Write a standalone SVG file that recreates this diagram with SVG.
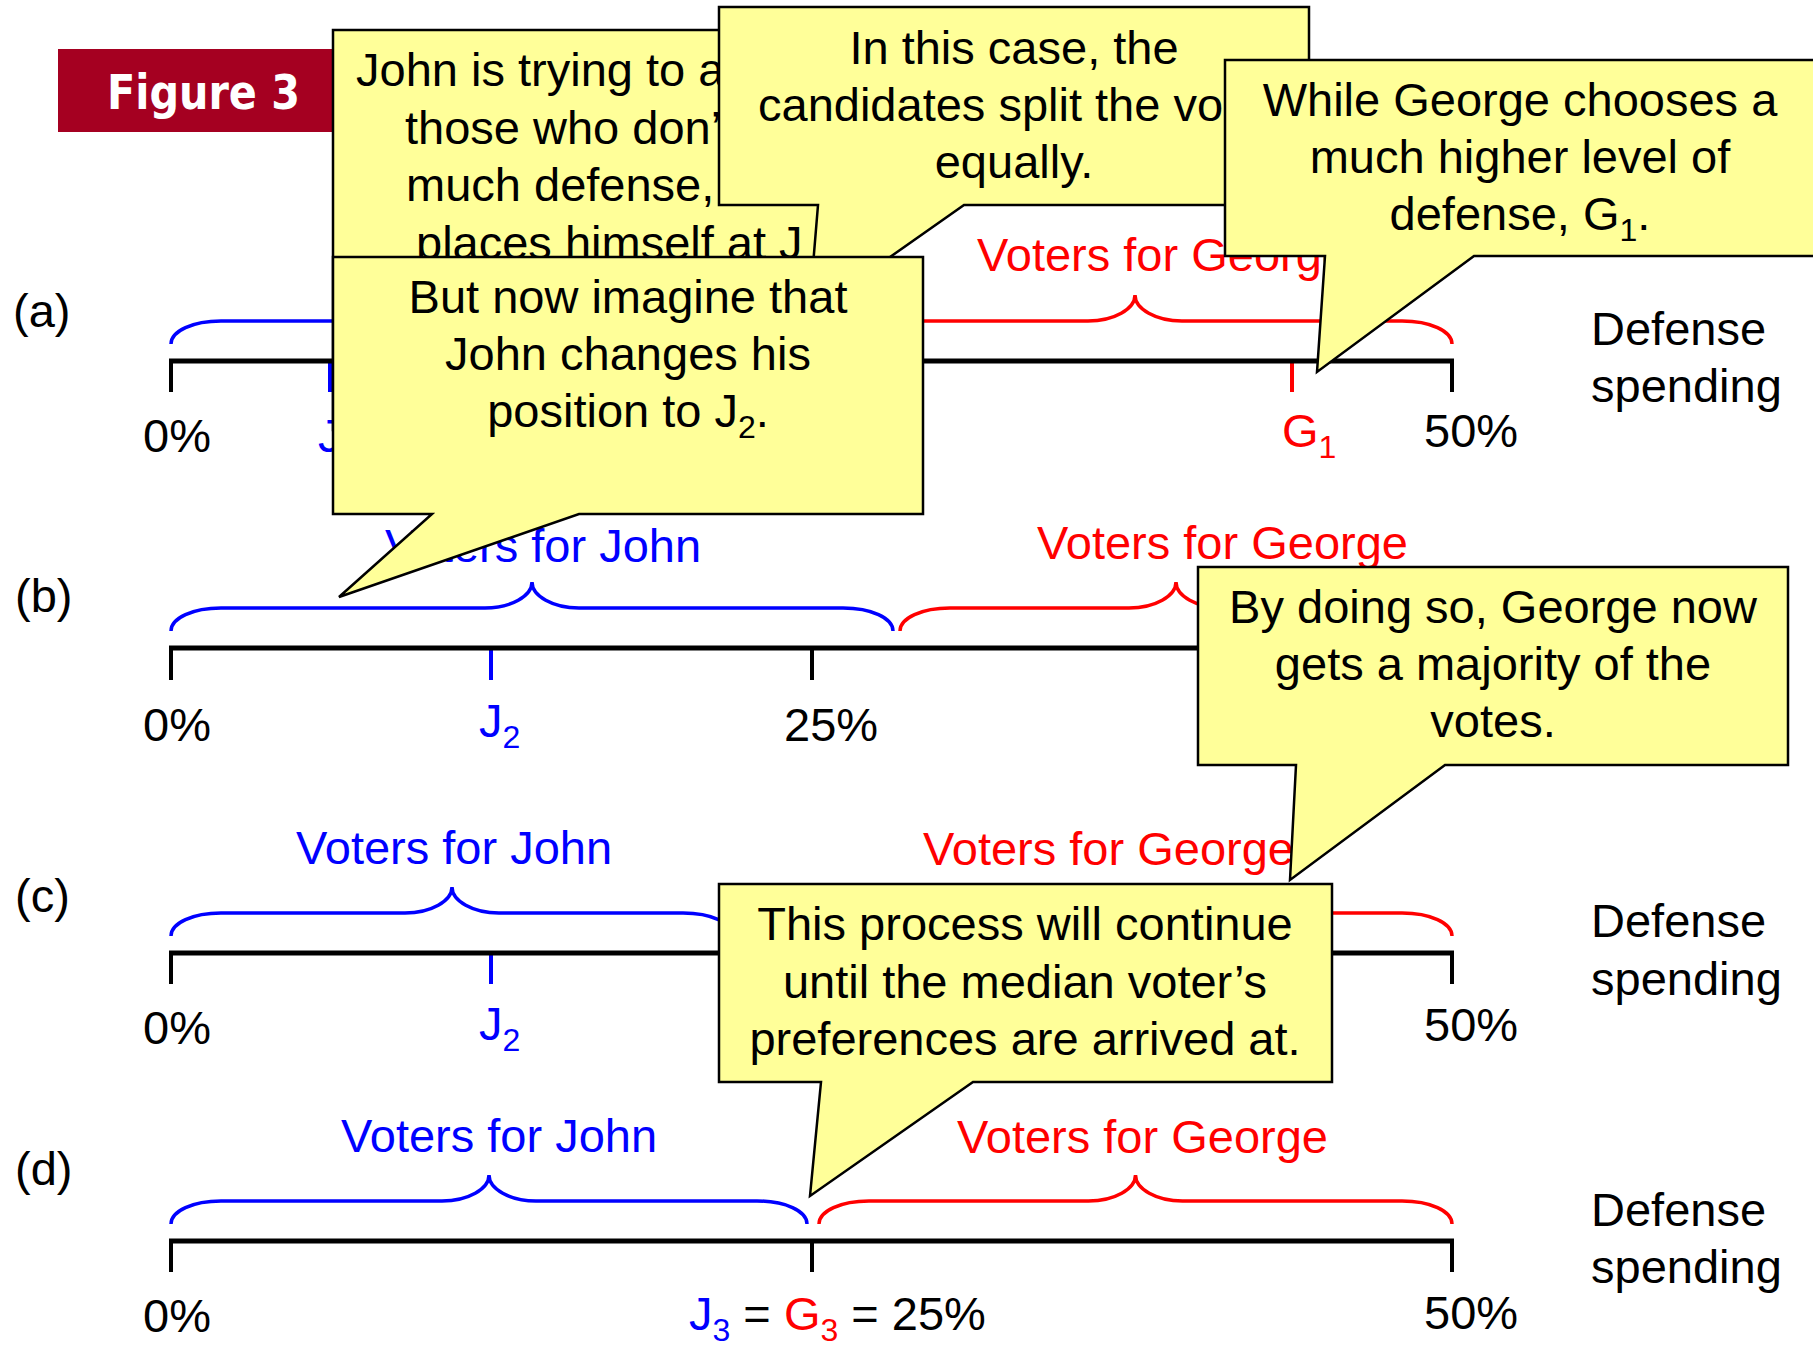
<svg xmlns="http://www.w3.org/2000/svg" width="1813" height="1345" viewBox="0 0 1813 1345">
<style>
  .t { font-family: "Liberation Sans", Arial, sans-serif; font-size: 47px; fill: #000; }
  .c { text-anchor: middle; }
  .blue { fill: #0000FF; }
  .red { fill: #FF0000; }
  .sub { font-size: 32px; }
  .axis { stroke: #000; stroke-width: 5; fill: none; }
  .tick { stroke-width: 4; fill: none; }
  .tk { stroke: #000; }
  .tb { stroke: #0000FF; }
  .tr { stroke: #FF0000; }
  .brace { fill: none; stroke-width: 3.5; }
  .bb { stroke: #0000FF; }
  .br { stroke: #FF0000; }
  .callout { fill: #FFFF99; stroke: #000; stroke-width: 2.5; stroke-linejoin: miter; }
</style>
<rect width="1813" height="1345" fill="#FFFFFF"/>

<g id="banner">
  <rect x="58" y="49" width="290" height="83" fill="#A50021"/>
  <text x="107" y="109" font-family="'DejaVu Sans', Verdana, sans-serif" font-weight="bold" font-size="48" fill="#FFFFFF" textLength="193" lengthAdjust="spacingAndGlyphs">Figure 3</text>
</g>

<g id="row-a">
  <text class="t" x="13" y="327">(a)</text>
  <line class="tick tb" x1="330" y1="361" x2="330" y2="392"/>
  <line class="tick tr" x1="1292" y1="361" x2="1292" y2="392"/>
  <line class="tick tk" x1="171" y1="361" x2="171" y2="392"/>
  <line class="tick tk" x1="1452" y1="361" x2="1452" y2="392"/>
  <line class="axis" x1="169" y1="361" x2="1454" y2="361"/>
  <path class="brace bb" d="M171,344 C171,331 193,321 221,321 L441,321 C467,321 488,309 488,295 C488,309 509,321 535,321 L755,321 C783,321 805,331 805,344"/>
  <path class="brace br" d="M818,344 C818,331 840,321 868,321 L1088,321 C1114,321 1135,309 1135,295 C1135,309 1156,321 1182,321 L1402,321 C1430,321 1452,331 1452,344"/>
  <text class="t red" x="977" y="271">Voters for George</text>
  <text class="t" x="143" y="452">0%</text>
  <text class="t blue" x="318" y="452">J</text>
  <text class="t red" x="1282" y="447">G<tspan class="sub" dy="11">1</tspan></text>
  <text class="t" x="1424" y="447">50%</text>
  <text class="t" x="1591" y="345">Defense</text>
  <text class="t" x="1591" y="402">spending</text>
</g>

<g id="row-b">
  <text class="t" x="15" y="612">(b)</text>
  <line class="tick tb" x1="491" y1="648" x2="491" y2="680"/>
  <line class="tick tr" x1="1292" y1="648" x2="1292" y2="680"/>
  <line class="tick tk" x1="171" y1="648" x2="171" y2="680"/>
  <line class="tick tk" x1="812" y1="648" x2="812" y2="680"/>
  <line class="tick tk" x1="1452" y1="648" x2="1452" y2="680"/>
  <line class="axis" x1="169" y1="648" x2="1454" y2="648"/>
  <path class="brace bb" d="M171,631 C171,618 193,608 221,608 L485,608 C511,608 532,596 532,582 C532,596 553,608 579,608 L843,608 C871,608 893,618 893,631"/>
  <path class="brace br" d="M900,631 C900,618 922,608 950,608 L1129,608 C1155,608 1176,596 1176,582 C1176,596 1197,608 1223,608 L1402,608 C1430,608 1452,618 1452,631"/>
  <text class="t blue" x="385" y="562">Voters for John</text>
  <text class="t red" x="1037" y="559">Voters for George</text>
  <text class="t" x="143" y="741">0%</text>
  <text class="t blue" x="479" y="737">J<tspan class="sub" dy="11">2</tspan></text>
  <text class="t" x="784" y="741">25%</text>
</g>

<g id="row-c">
  <text class="t" x="15" y="912">(c)</text>
  <line class="tick tb" x1="491" y1="953" x2="491" y2="984"/>
  <line class="tick tr" x1="975" y1="953" x2="975" y2="984"/>
  <line class="tick tk" x1="171" y1="953" x2="171" y2="984"/>
  <line class="tick tk" x1="1452" y1="953" x2="1452" y2="984"/>
  <line class="axis" x1="169" y1="953" x2="1454" y2="953"/>
  <path class="brace bb" d="M171,936 C171,923 193,913 221,913 L405,913 C431,913 452,901 452,887 C452,901 473,913 499,913 L683,913 C711,913 733,923 733,936"/>
  <path class="brace br" d="M744,936 C744,923 766,913 794,913 L1051,913 C1077,913 1098,901 1098,887 C1098,901 1119,913 1145,913 L1402,913 C1430,913 1452,923 1452,936"/>
  <text class="t blue" x="296" y="864">Voters for John</text>
  <text class="t red" x="923" y="865">Voters for George</text>
  <text class="t" x="143" y="1044">0%</text>
  <text class="t blue" x="479" y="1040">J<tspan class="sub" dy="11">2</tspan></text>
  <text class="t" x="1424" y="1041">50%</text>
  <text class="t" x="1591" y="937">Defense</text>
  <text class="t" x="1591" y="995">spending</text>
</g>

<g id="row-d">
  <text class="t" x="15" y="1185">(d)</text>
  <line class="tick tk" x1="171" y1="1241" x2="171" y2="1272"/>
  <line class="tick tk" x1="812" y1="1241" x2="812" y2="1272"/>
  <line class="tick tk" x1="1452" y1="1241" x2="1452" y2="1272"/>
  <line class="axis" x1="169" y1="1241" x2="1454" y2="1241"/>
  <path class="brace bb" d="M171,1224 C171,1211 193,1201 221,1201 L442,1201 C468,1201 489,1189 489,1175 C489,1189 510,1201 536,1201 L757,1201 C785,1201 807,1211 807,1224"/>
  <path class="brace br" d="M819,1224 C819,1211 841,1201 869,1201 L1088.5,1201 C1114.5,1201 1135.5,1189 1135.5,1175 C1135.5,1189 1156.5,1201 1182.5,1201 L1402,1201 C1430,1201 1452,1211 1452,1224"/>
  <text class="t blue" x="341" y="1152">Voters for John</text>
  <text class="t red" x="957" y="1153">Voters for George</text>
  <text class="t" x="143" y="1332">0%</text>
  <text class="t" x="689" y="1330"><tspan class="blue">J</tspan><tspan class="blue sub" dy="11">3</tspan><tspan dy="-11"> = </tspan><tspan class="red">G</tspan><tspan class="red sub" dy="11">3</tspan><tspan dy="-11"> = 25%</tspan></text>
  <text class="t" x="1424" y="1329">50%</text>
  <text class="t" x="1591" y="1226">Defense</text>
  <text class="t" x="1591" y="1283">spending</text>
</g>

<g id="connectors"></g>

<g id="callout-1">
  <rect class="callout" x="333" y="30" width="523" height="400"/>
  <text class="t" x="356" y="86">John is trying to a</text>
  <text class="t" x="405" y="144">those who don’</text>
  <text class="t" x="406" y="201">much defense,</text>
  <text class="t" x="416" y="259">places himself at J</text>
</g>

<g id="callout-2">
  <path class="callout" d="M719,7 H1309 V205 H964 L809,314 L818,205 H719 Z"/>
  <text class="t c" x="1014" y="64">In this case, the</text>
  <text class="t" x="758" y="121">candidates split the vo</text>
  <text class="t c" x="1014" y="178">equally.</text>
</g>

<g id="callout-3">
  <path class="callout" d="M1225,60 H1816 V256 H1474 L1317,372 L1325,256 H1225 Z"/>
  <text class="t c" x="1520" y="116">While George chooses a</text>
  <text class="t c" x="1520" y="173">much higher level of</text>
  <text class="t c" x="1520" y="230">defense, G<tspan class="sub" dy="11">1</tspan><tspan dy="-11">.</tspan></text>
</g>

<g id="callout-4">
  <path class="callout" d="M333,257 H923 V514 H579 L339,597 L432,514 H333 Z"/>
  <text class="t c" x="628" y="313">But now imagine that</text>
  <text class="t c" x="628" y="370">John changes his</text>
  <text class="t c" x="628" y="427">position to J<tspan class="sub" dy="11">2</tspan><tspan dy="-11">.</tspan></text>
</g>

<g id="callout-5">
  <path class="callout" d="M1198,567 H1788 V765 H1445 L1290,880 L1296,765 H1198 Z"/>
  <text class="t c" x="1493" y="623">By doing so, George now</text>
  <text class="t c" x="1493" y="680">gets a majority of the</text>
  <text class="t c" x="1493" y="737">votes.</text>
</g>

<g id="callout-6">
  <path class="callout" d="M719,884 H1332 V1082 H973 L810,1196 L821,1082 H719 Z"/>
  <text class="t c" x="1025" y="940">This process will continue</text>
  <text class="t c" x="1025" y="998">until the median voter’s</text>
  <text class="t c" x="1025" y="1055">preferences are arrived at.</text>
</g>
</svg>
